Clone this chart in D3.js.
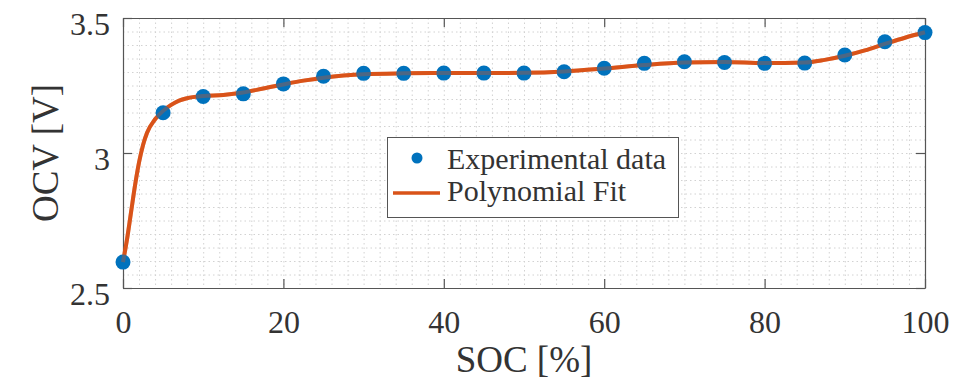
<!DOCTYPE html>
<html>
<head>
<meta charset="utf-8">
<script src="https://cdn.jsdelivr.net/npm/d3@7"></script>
<style>
  html, body { margin: 0; padding: 0; background: #fff; }
  svg text { font-family: "Liberation Serif", "Times New Roman", serif; fill: #333; }
</style>
</head>
<body>
<svg id="chart" width="968" height="382"></svg>
<script>
// measured points
var soc = [0, 5, 10, 15, 20, 25, 30, 35, 40, 45, 50, 55, 60, 65, 70, 75, 80, 85, 90, 95, 100];
var ocv = [2.596, 3.149, 3.209, 3.219, 3.256, 3.284, 3.295, 3.295, 3.296, 3.296, 3.296, 3.301,
           3.314, 3.332, 3.338, 3.335, 3.332, 3.333, 3.363, 3.412, 3.446];

// polynomial fit, sampled off the curve
var fitSoc = [0, 0.5, 1, 1.5, 2, 2.5, 3, 4, 5, 6, 7, 8, 10, 12.5, 15, 17.5, 20, 22.5, 25, 27.5,
              30, 35, 40, 45, 50, 55, 60, 65, 70, 75, 80, 85, 87.5, 90, 92.5, 95, 97.5, 100];
var fitOcv = [2.596, 2.68, 2.78, 2.88, 2.965, 3.03, 3.075, 3.125, 3.156, 3.178, 3.194, 3.203,
              3.211, 3.215, 3.224, 3.239, 3.254, 3.268, 3.279, 3.287, 3.292, 3.295, 3.296,
              3.296, 3.297, 3.302, 3.313, 3.326, 3.335, 3.337, 3.333, 3.335, 3.345, 3.36,
              3.38, 3.404, 3.427, 3.447];

var xTicks = [0, 20, 40, 60, 80, 100];
var yTicks = [2.5, 3, 3.5];
var legendNames = ["Experimental data", "Polynomial Fit"];

var blue = "#0072BD", orange = "#D95319", axisCol = "#3a3a3a";

var svg = d3.select("#chart");
var x = d3.scaleLinear().domain([0, 100]).range([123, 925]);
var y = d3.scaleLinear().domain([2.5, 3.5]).range([288, 18]);

// minor grid (dotted)
var grid = svg.append("g").attr("stroke", "#d2d2d2").attr("stroke-dasharray", "1.5,3").attr("stroke-width", 1);
grid.selectAll("line.vx")
  .data(x.ticks(50))
  .enter().append("line")
  .attr("x1", d => x(d) + 0.5).attr("x2", d => x(d) + 0.5)
  .attr("y1", y(3.5)).attr("y2", y(2.5));
grid.selectAll("line.hy")
  .data(y.ticks(20))
  .enter().append("line")
  .attr("x1", x(0)).attr("x2", x(100))
  .attr("y1", d => y(d) + 0.5).attr("y2", d => y(d) + 0.5);

// axes (ticks inside, box all round)
var axBottom = svg.append("g")
  .attr("transform", "translate(0," + y(2.5) + ")")
  .call(d3.axisBottom(x).tickValues(xTicks).tickSizeInner(-9).tickSizeOuter(0).tickPadding(22));
var axLeft = svg.append("g")
  .attr("transform", "translate(" + x(0) + ",0)")
  .call(d3.axisLeft(y).tickValues(yTicks).tickFormat(d3.format("")).tickSizeInner(-9).tickSizeOuter(0).tickPadding(13));
var axTop = svg.append("g")
  .attr("transform", "translate(0," + y(3.5) + ")")
  .call(d3.axisTop(x).tickValues(xTicks).tickSizeInner(-9).tickSizeOuter(0).tickFormat(""));
var axRight = svg.append("g")
  .attr("transform", "translate(" + x(100) + ",0)")
  .call(d3.axisRight(y).tickValues(yTicks).tickSizeInner(-9).tickSizeOuter(0).tickFormat(""));

[axBottom, axLeft, axTop, axRight].forEach(function (g) {
  g.selectAll("path").attr("stroke", "#555").attr("stroke-width", 1.2);
  g.selectAll("line").attr("stroke", "#555").attr("stroke-width", 1.2);
  g.selectAll("text").attr("fill", axisCol).style("font-size", "32px")
    .style("font-family", '"Liberation Serif", serif');
});
axLeft.selectAll("text").attr("dy", "0.5em");

// axis titles
svg.append("text")
  .attr("x", (x(0) + x(100)) / 2).attr("y", 372)
  .attr("text-anchor", "middle").style("font-size", "37px")
  .attr("fill", axisCol)
  .text("SOC [%]");
svg.append("text")
  .attr("transform", "translate(58," + (y(3.5) + y(2.5)) / 2 + ") rotate(-90)")
  .attr("text-anchor", "middle").style("font-size", "37px")
  .attr("fill", axisCol)
  .text("OCV [V]");

// fit line
var line = d3.line()
  .x(function (d, i) { return x(fitSoc[i]); })
  .y(function (d) { return y(d); })
  .curve(d3.curveMonotoneX);
svg.append("path")
  .datum(fitOcv)
  .attr("d", line)
  .attr("fill", "none")
  .attr("stroke", orange)
  .attr("stroke-width", 4)
  .attr("stroke-linejoin", "round");

// data points
svg.selectAll("circle.pt")
  .data(ocv)
  .enter().append("circle")
  .attr("class", "pt")
  .attr("cx", function (d, i) { return x(soc[i]); })
  .attr("cy", function (d) { return y(d); })
  .attr("r", 7.5)
  .attr("fill", blue);

// line drawn over points like the reference
svg.append("path")
  .datum(fitOcv)
  .attr("d", line)
  .attr("fill", "none")
  .attr("stroke", orange)
  .attr("stroke-width", 4)
  .attr("stroke-opacity", 0.35);

// legend
var lg = svg.append("g");
lg.append("rect")
  .attr("x", 387.5).attr("y", 137.5).attr("width", 291).attr("height", 80)
  .attr("fill", "#fff").attr("stroke", "#555").attr("stroke-width", 1);
lg.append("circle").attr("cx", 417).attr("cy", 158).attr("r", 5.5).attr("fill", blue);
lg.append("line").attr("x1", 393).attr("x2", 440).attr("y1", 193).attr("y2", 193)
  .attr("stroke", orange).attr("stroke-width", 3.5);
lg.selectAll("text")
  .data(legendNames)
  .enter().append("text")
  .attr("x", 447)
  .attr("y", function (d, i) { return 169 + i * 32; })
  .style("font-size", "30px")
  .attr("fill", "#222")
  .text(function (d) { return d; });
</script>
</body>
</html>
